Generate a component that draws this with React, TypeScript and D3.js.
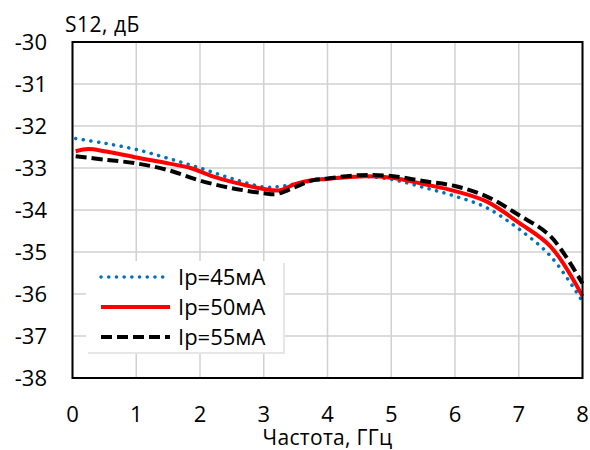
import React from "react";
import * as d3 from "d3";

const xTicks = [0, 1, 2, 3, 4, 5, 6, 7, 8];
const yTicks = [-38, -37, -36, -35, -34, -33, -32, -31, -30];

const xs45 = [0.05, 0.5, 1, 1.5, 2, 2.5, 3, 3.3, 3.6, 4, 4.5, 5, 5.5, 6, 6.5, 7, 7.5, 8];
const ys45 = [-32.3, -32.41, -32.56, -32.77, -33.0, -33.25, -33.45, -33.43, -33.35, -33.25, -33.2, -33.27, -33.46, -33.67, -33.95, -34.45, -35.1, -36.18];

const xs50 = [0.05, 0.25, 0.5, 1, 1.5, 1.85, 2.2, 2.5, 3, 3.25, 3.5, 3.75, 4, 4.5, 5, 5.5, 6, 6.5, 7, 7.5, 8];
const ys50 = [-32.6, -32.55, -32.6, -32.75, -32.89, -33.0, -33.2, -33.33, -33.5, -33.53, -33.38, -33.29, -33.26, -33.2, -33.23, -33.38, -33.55, -33.8, -34.3, -34.87, -36.05];

const xs55 = [0.05, 0.5, 1, 1.5, 2, 2.5, 3, 3.2, 3.5, 3.75, 4, 4.5, 5, 5.5, 6, 6.5, 7, 7.5, 8];
const ys55 = [-32.72, -32.8, -32.89, -33.05, -33.3, -33.48, -33.6, -33.62, -33.45, -33.3, -33.25, -33.17, -33.19, -33.31, -33.43, -33.68, -34.12, -34.63, -35.75];

const seriesNames = ["Ip=45мА", "Ip=50мА", "Ip=55мА"];

const FONT = "'Open Sans', 'Noto Sans', sans-serif";

export default function App() {
  const x = d3.scaleLinear().domain([0, 8]).range([72.5, 582.5]);
  const y = d3.scaleLinear().domain([-38, -30]).range([378, 42]);
  const line = d3
    .line<[number, number]>()
    .x((d) => x(d[0]))
    .y((d) => y(d[1]))
    .curve(d3.curveCatmullRom.alpha(0.5));

  const zip = (a: number[], b: number[]) => a.map((v, i) => [v, b[i]] as [number, number]);

  const styles = [
    { stroke: "#0070C0", width: 3.5, dash: "0.1 7.6", cap: "round" as const },
    { stroke: "#FF0000", width: 4, dash: undefined, cap: "butt" as const },
    { stroke: "#000000", width: 4, dash: "11 5", cap: "butt" as const },
  ];
  const data = [zip(xs45, ys45), zip(xs50, ys50), zip(xs55, ys55)];

  const lg = { x: 86, y: 261, w: 197, h: 91 };
  const rowY = [277, 307, 337];

  return (
    <svg
      width={590}
      height={450}
      style={{ position: "absolute", left: 0, top: 0, background: "#fff" }}
      fontFamily={FONT}
    >
      <rect width={590} height={450} fill="#fff" />
      {xTicks.map((t) => (
        <line key={"gx" + t} x1={x(t)} x2={x(t)} y1={y(-30)} y2={y(-38)} stroke="#d0d0d0" strokeWidth={1.5} />
      ))}
      {yTicks.map((t) => (
        <line key={"gy" + t} x1={x(0)} x2={x(8)} y1={y(t)} y2={y(t)} stroke="#d0d0d0" strokeWidth={1.5} />
      ))}
      {data.map((d, i) => (
        <path
          key={"s" + i}
          d={line(d) || ""}
          fill="none"
          stroke={styles[i].stroke}
          strokeWidth={styles[i].width}
          strokeDasharray={styles[i].dash}
          strokeLinecap={styles[i].cap}
          strokeLinejoin="round"
        />
      ))}
      <rect x={x(0)} y={y(-30)} width={x(8) - x(0)} height={y(-38) - y(-30)} fill="none" stroke="#000" strokeWidth={2} />
      {yTicks.map((t) => (
        <text key={"yt" + t} x={47} y={y(t)} dy="0.36em" textAnchor="end" fontSize={22} fill="#000">
          {t}
        </text>
      ))}
      {xTicks.map((t) => (
        <text key={"xt" + t} x={x(t)} y={422} textAnchor="middle" fontSize={22} fill="#000">
          {t}
        </text>
      ))}
      <text x={327.5} y={445} textAnchor="middle" fontSize={21} letterSpacing={0.3} fill="#000">
        Частота, ГГц
      </text>
      <text x={65} y={32} fontSize={21} letterSpacing={0.5} fill="#000">
        S12, дБ
      </text>
      <rect x={lg.x + 2} y={lg.y + 2} width={lg.w} height={lg.h} fill="#e6e6e6" />
      <rect x={lg.x} y={lg.y} width={lg.w} height={lg.h} fill="#fff" />
      {seriesNames.map((n, i) => (
        <g key={"lg" + i}>
          <line
            x1={101}
            x2={170}
            y1={rowY[i]}
            y2={rowY[i]}
            stroke={styles[i].stroke}
            strokeWidth={styles[i].width}
            strokeDasharray={styles[i].dash}
            strokeLinecap={styles[i].cap}
          />
          <text x={178} y={rowY[i]} dy="0.36em" fontSize={22} fill="#000">
            {n}
          </text>
        </g>
      ))}
    </svg>
  );
}
